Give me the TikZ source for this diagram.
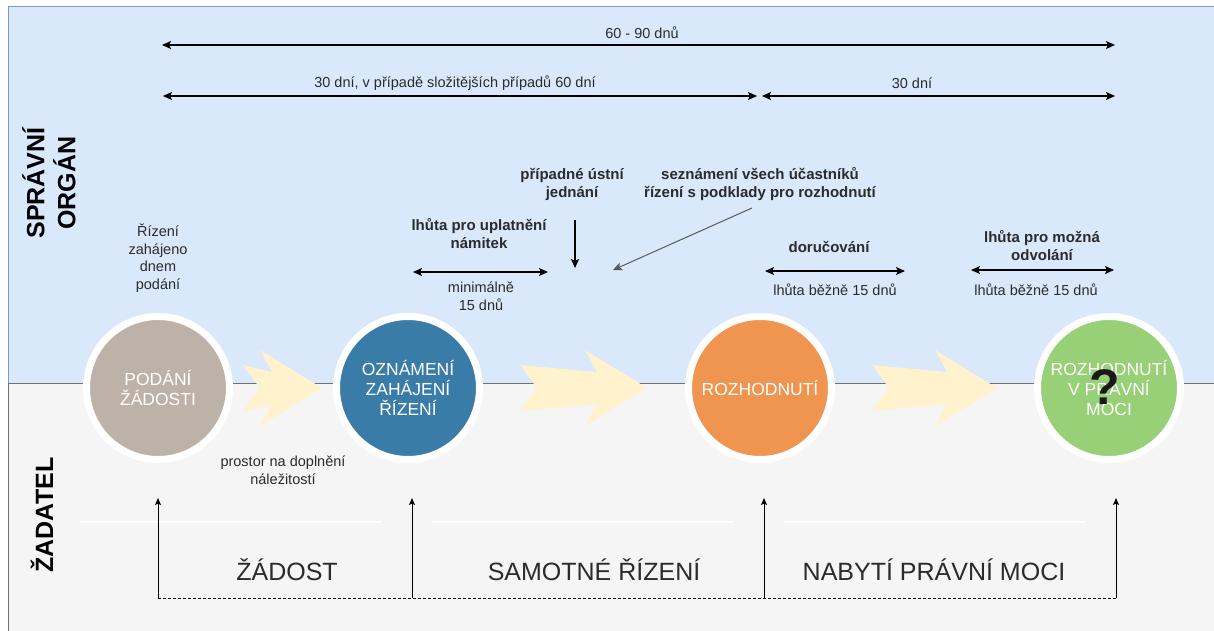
\documentclass[tikz,border=0pt]{standalone}
\usepackage{fontspec}
\setmainfont{Liberation Sans}
\usetikzlibrary{arrows.meta}

\definecolor{orgbg}{HTML}{DAE8FC}
\definecolor{appbg}{HTML}{F5F5F5}
\definecolor{frameblue}{HTML}{7F99BF}
\definecolor{framegray}{HTML}{707070}
\definecolor{txt}{HTML}{2B2B2B}
\definecolor{podani}{HTML}{BDB2A8}
\definecolor{oznameni}{HTML}{3A7CA8}
\definecolor{rozhod}{HTML}{F09550}
\definecolor{moc}{HTML}{97D077}
\definecolor{flow}{HTML}{FFF2CC}
\definecolor{pointer}{HTML}{5A5A5A}

\newcommand\fsz[2]{\fontsize{#1}{#2}\selectfont}
% block arrow between two stages: tail x, tip x
\newcommand\flowshape[2]{%
  \fill[flow] (#1,365) -- (#2-50,372) -- (#2-62,350) -- (#2,388)
    -- (#2-62,426) -- (#2-50,404) -- (#1,411) -- (#1+17,388) -- cycle;}

\tikzset{
  bigtip/.tip={Stealth[length=9pt,width=8pt,inset=2pt]},
  smalltip/.tip={Stealth[length=7pt,width=6pt,inset=1.5pt]},
  span/.style={line width=1.2pt,bigtip-bigtip},
  stage/.style={circle,minimum size=143pt,inner sep=0pt,draw=white,line width=7pt,
    text=white,align=center,font=\fsz{17.5}{20}},
  lbl/.style={text=txt,align=center,inner sep=0pt,font=\fsz{14.5}{17.5}},
  blbl/.style={text=txt,align=center,inner sep=0pt,font=\bfseries\fsz{15}{18}},
  lane/.style={text=black,align=center,inner sep=0pt,rotate=90,font=\bfseries\fsz{25}{31}},
  phase/.style={text=txt,inner sep=0pt,font=\fsz{25}{30}},
  sep/.style={white,line width=2pt},
}

\begin{document}
\begin{tikzpicture}[x=1pt,y=-1pt]
\useasboundingbox (0,0) rectangle (1214,631);
\clip (0,0) rectangle (1214,631);
\fill[white] (0,0) rectangle (1214,631);

% the two lanes
\filldraw[fill=orgbg,draw=frameblue,line width=1pt] (8,7) rectangle (1230,383);
\filldraw[fill=appbg,draw=framegray,line width=1pt] (8,383) rectangle (1230,650);

\node[lane] (organ) at (49,183) {SPRÁVNÍ\\ORGÁN};
\node[lane] (zadatel) at (42,515) {ŽADATEL};

% overall time spans
\coordinate (s1l) at (162,45);  \coordinate (s1r) at (1115,45);
\coordinate (s2l) at (163,96);  \coordinate (s2r) at (757,96);
\coordinate (s3l) at (762,96);  \coordinate (s3r) at (1115,96);
\draw[span] (s1l) -- (s1r);
\draw[span] (s2l) -- (s2r);
\draw[span] (s3l) -- (s3r);
\node[lbl] (t6090) at (642,33) {60 - 90 dnů};
\node[lbl] (t30a) at (455,83) {30 dní, v případě složitějších případů 60 dní};
\node[lbl] (t30b) at (912,83) {30 dní};

% flow arrows between stages
\flowshape{243}{322}
\flowshape{520}{647}
\flowshape{872}{997}

% stages
\node[stage,fill=podani] (podani) at (158,388) {PODÁNÍ\\ŽÁDOSTI};
\node[stage,fill=oznameni] (oznameni) at (408,388) {OZNÁMENÍ\\ZAHÁJENÍ\\ŘÍZENÍ};
\node[stage,fill=rozhod] (rozhodnuti) at (760,388) {ROZHODNUTÍ};
\node[stage,fill=moc] (moc) at (1109,388) {ROZHODNUTÍ\\V PRÁVNÍ\\MOCI};
\node[inner sep=0pt,text=black!90,font=\bfseries\fsz{50}{50}] (otaznik) at (1105,387) {?};

% notes in the authority lane
\node[lbl] (zahajeno) at (158,258) {Řízení\\zahájeno\\dnem\\podání};

\node[blbl] (namitky) at (479,234) {lhůta pro uplatnění\\námitek};
\coordinate (n1) at (413,272); \coordinate (n2) at (548,272);
\draw[span] (n1) -- (n2);
\node[lbl] (minimalne) at (481,296) {minimálně\\15 dnů};

\node[blbl] (jednani) at (572,184) {případné ústní\\jednání};
\coordinate (j1) at (575,220); \coordinate (j2) at (575,268);
\draw[line width=1.2pt,-bigtip] (j1) -- (j2);

\node[blbl] (seznameni) at (760,184) {seznámení všech účastníků\\řízení s podklady pro rozhodnutí};
\coordinate (p1) at (752,208); \coordinate (p2) at (613,270);
\draw[pointer,line width=1pt,-bigtip] (p1) -- (p2);

\node[blbl] (dorucovani) at (829,247) {doručování};
\coordinate (d1) at (765,271); \coordinate (d2) at (905,271);
\draw[span] (d1) -- (d2);
\node[lbl] (lhuta1) at (835,290) {lhůta běžně 15 dnů};

\node[blbl] (odvolani) at (1042,246) {lhůta pro možná\\odvolání};
\coordinate (o1) at (971,270); \coordinate (o2) at (1114,270);
\draw[span] (o1) -- (o2);
\node[lbl] (lhuta2) at (1036,290) {lhůta běžně 15 dnů};

% applicant lane
\node[lbl] (doplneni) at (283,470) {prostor na doplnění\\náležitostí};

\draw[sep] (80,522) -- (382,522);
\draw[sep] (432,522) -- (733,522);
\draw[sep] (784,522) -- (1085,522);

\node[phase] (zadost) at (287,570) {ŽÁDOST};
\node[phase] (samotne) at (594,570) {SAMOTNÉ ŘÍZENÍ};
\node[phase] (nabyti) at (934,570) {NABYTÍ PRÁVNÍ MOCI};

\coordinate (b1) at (158,598);  \coordinate (u1) at (158,498);
\coordinate (b2) at (412,598);  \coordinate (u2) at (412,498);
\coordinate (b3) at (764,598);  \coordinate (u3) at (764,498);
\coordinate (b4) at (1116,598); \coordinate (u4) at (1116,498);
\draw[line width=0.9pt,dash pattern=on 3pt off 2pt] (b1) -- (b4);
\foreach \i in {1,...,4}
  \draw[line width=0.9pt,-smalltip] (b\i) -- (u\i);
\end{tikzpicture}
\end{document}
